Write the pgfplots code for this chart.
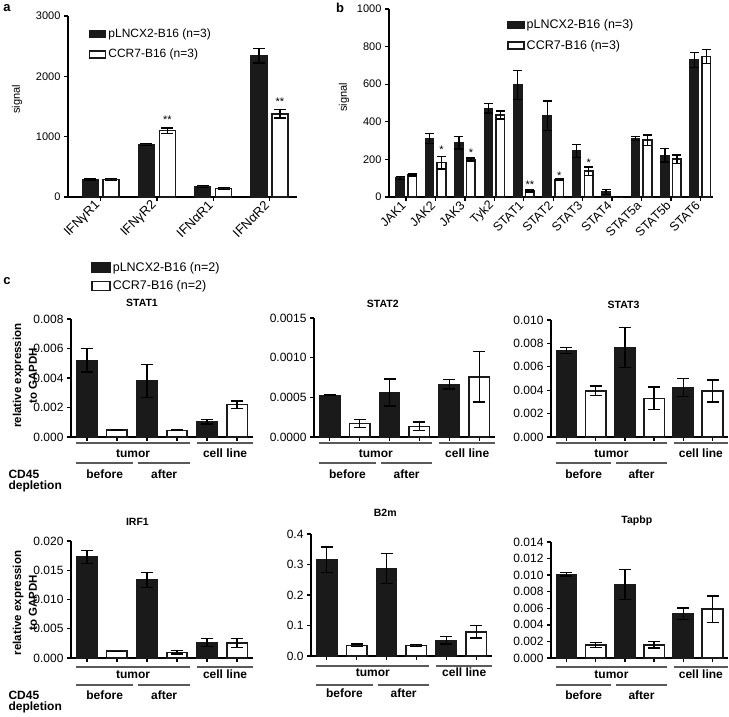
\documentclass[border=0pt]{standalone}
\usepackage{fontspec}
\setmainfont{Liberation Sans}
\usepackage{pgfplots}
\pgfplotsset{compat=1.18}
\definecolor{barblk}{HTML}{1A1A1A}
\definecolor{grpline}{HTML}{5A5A5A}
\newcommand{\fsz}[1]{\fontsize{#1}{#1}\selectfont}
\pgfplotsset{
  prism/.style={
    scale only axis, clip=false,
    axis x line*=bottom, axis y line*=left,
    axis line style={line width=1.6pt, -},
    tick align=outside, major tick length=4pt,
    tick style={line width=1.3pt, black},
    ymin=0, scaled y ticks=false,
    /pgf/number format/assume math mode=true,
  },
  blk/.style={ybar, bar shift=0pt, fill=barblk, draw=barblk, line width=1.2pt, forget plot,
    error bars/y dir=both, error bars/y explicit,
    error bars/error bar style={line width=1.3pt, black},
    error bars/error mark options={rotate=90, line width=1.3pt, black, mark size=#1}},
  wht/.style={ybar, bar shift=0pt, fill=white, draw=barblk, line width=1.6pt, forget plot,
    error bars/y dir=both, error bars/y explicit,
    error bars/error bar style={line width=1.3pt, black},
    error bars/error mark options={rotate=90, line width=1.3pt, black, mark size=#1}},
  legblk/.style={legend image code/.code={\draw[fill=barblk, draw=barblk, line width=1.2pt] (0pt,-3.5pt) rectangle (16pt,3.5pt);}},
  legwht/.style={legend image code/.code={\draw[fill=white, draw=barblk, line width=1.6pt] (0pt,-3.5pt) rectangle (16pt,3.5pt);}},
  legblkc/.style={legend image code/.code={\draw[fill=barblk, draw=barblk, line width=1.2pt] (0pt,-4.5pt) rectangle (18pt,4.5pt);}},
  legwhtc/.style={legend image code/.code={\draw[fill=white, draw=barblk, line width=1.6pt] (0pt,-4.5pt) rectangle (18pt,4.5pt);}},
  pc/.style={prism, anchor=south west, xmin=-0.53, xmax=5.53, xtick={0,...,5}, xticklabels={},
    yticklabel style={font=\fsz{12}, /pgf/number format/.cd, fixed, fixed zerofill, precision=#1},
    title style={anchor=base, font=\bfseries\fsz{10.5}}},
}
\newcommand{\grp}[2]{%
  \draw[grpline, line width=1.2pt] ([yshift=-#1pt]axis cs:-0.35,0) -- ([yshift=-#1pt]axis cs:3.43,0);
  \draw[grpline, line width=1.2pt] ([yshift=-#1pt]axis cs:3.67,0) -- ([yshift=-#1pt]axis cs:5.53,0);
  \draw[grpline, line width=1.2pt] ([yshift=-#2pt]axis cs:-0.35,0) -- ([yshift=-#2pt]axis cs:1.53,0);
  \draw[grpline, line width=1.2pt] ([yshift=-#2pt]axis cs:1.7,0) -- ([yshift=-#2pt]axis cs:3.43,0);
  \node[anchor=base, font=\bfseries\fsz{12}] at ([yshift=-21pt]axis cs:1.54,0) {tumor};
  \node[anchor=base, font=\bfseries\fsz{12}] at ([yshift=-21pt]axis cs:4.6,0) {cell line};
  \node[anchor=base, font=\bfseries\fsz{12}] at ([yshift=-42pt]axis cs:0.59,0) {before};
  \node[anchor=base, font=\bfseries\fsz{12}] at ([yshift=-42pt]axis cs:2.57,0) {after};
}
\newcommand{\relexp}[1]{%
  \node[rotate=90, font=\bfseries\fsz{11.5}] at (rel axis cs:-0.291,#1) {relative expression};
  \node[rotate=90, font=\bfseries\fsz{11.5}] at (rel axis cs:-0.209,#1) {to GAPDH};
}
\begin{document}
\begin{tikzpicture}[x=1pt,y=1pt]
\useasboundingbox (0pt,0pt) rectangle (729pt,717pt);

% ---------------- panel a ----------------
\node[font=\bfseries\fsz{13}] at (7pt,709pt) {a};
\begin{axis}[prism, at={(68pt,520pt)}, anchor=south west, width=229pt, height=181pt,
  xmin=-0.58, xmax=3.49, ymax=3000, ytick={0,1000,2000,3000},
  xtick={0,1,2,3}, xticklabels={IFNγR1,IFNγR2,IFNαR1,IFNαR2},
  xticklabel style={rotate=45, anchor=east, font=\fsz{13}},
  yticklabel style={font=\fsz{11}, /pgf/number format/1000 sep={}},
  ylabel={signal}, ylabel style={at={(axis description cs:-0.223,0.54)}, anchor=center, font=\fsz{11}},
  legend style={draw=none, fill=none, at={(axis description cs:0.09,0.94)}, anchor=north west, font=\fsz{12}, row sep=6pt, inner sep=0pt},
  legend cell align=left]
\addlegendimage{legblk}\addlegendentry{pLNCX2-B16 (n=3)}
\addlegendimage{legwht}\addlegendentry{CCR7-B16 (n=3)}
\addplot[blk=6pt, bar width=16pt] coordinates {
  (-0.187,295) +- (0,15) (0.813,870) +- (0,20) (1.813,170) +- (0,15) (2.813,2340) +- (0,120)};
\addplot[wht=6pt, bar width=16pt] coordinates {
  (0.187,293) +- (0,15) (1.187,1100) +- (0,45) (2.187,140) +- (0,12) (3.187,1380) +- (0,70)};
\node[font=\fsz{11}, yshift=-3pt] at (axis cs:1.187,1330) {**};
\node[font=\fsz{11}, yshift=-3pt] at (axis cs:3.187,1630) {**};
\end{axis}

% ---------------- panel b ----------------
\node[font=\bfseries\fsz{13}] at (340pt,709pt) {b};
\begin{axis}[prism, at={(389pt,520pt)}, anchor=south west, width=324pt, height=188pt,
  xmin=-0.58, xmax=10.43, ymax=1000, ytick={0,200,...,1000},
  xtick={0,...,10}, xticklabels={JAK1,JAK2,JAK3,Tyk2,STAT1,STAT2,STAT3,STAT4,STAT5a,STAT5b,STAT6},
  xticklabel style={rotate=45, anchor=east, font=\fsz{12.5}},
  yticklabel style={font=\fsz{11}, /pgf/number format/1000 sep={}},
  ylabel={signal}, ylabel style={at={(axis description cs:-0.139,0.53)}, anchor=center, font=\fsz{11}},
  legend style={draw=none, fill=none, at={(axis description cs:0.364,0.955)}, anchor=north west, font=\fsz{12.5}, row sep=6pt, inner sep=0pt},
  legend cell align=left]
\addlegendimage{legblk}\addlegendentry{pLNCX2-B16 (n=3)}
\addlegendimage{legwht}\addlegendentry{CCR7-B16 (n=3)}
\addplot[blk=4.5pt, bar width=8.5pt] coordinates {
  (-0.204,101) +- (0,8) (0.796,311) +- (0,27) (1.796,288) +- (0,32) (2.796,471) +- (0,25)
  (3.796,596) +- (0,76) (4.796,432) +- (0,78) (5.796,245) +- (0,34) (6.796,27) +- (0,12)
  (7.796,310) +- (0,10) (8.796,222) +- (0,36) (9.796,730) +- (0,40)};
\addplot[wht=4.5pt, bar width=8.5pt] coordinates {
  (0.204,117) +- (0,5) (1.204,183) +- (0,34) (2.204,200) +- (0,8) (3.204,436) +- (0,21)
  (4.204,32) +- (0,5) (5.204,92) +- (0,4) (6.204,137) +- (0,23) (7.204,2) +- (0,1)
  (8.204,302) +- (0,27) (9.204,201) +- (0,23) (10.204,747) +- (0,38)};
\node[font=\fsz{11}, yshift=-3pt] at (axis cs:1.204,267) {*};
\node[font=\fsz{11}, yshift=-3pt] at (axis cs:2.204,254) {*};
\node[font=\fsz{11}, yshift=-3pt] at (axis cs:4.204,80) {**};
\node[font=\fsz{11}, yshift=-3pt] at (axis cs:5.204,128) {*};
\node[font=\fsz{11}, yshift=-3pt] at (axis cs:6.204,199) {*};
\end{axis}

% ---------------- panel c ----------------
\node[font=\bfseries\fsz{13}] at (7pt,436pt) {c};
\node[anchor=base west, font=\bfseries\fsz{12}] at (5pt,238pt) {CD45};
\node[anchor=base west, font=\bfseries\fsz{12}] at (5pt,227pt) {depletion};
\node[anchor=base west, font=\bfseries\fsz{12}] at (5pt,17pt) {CD45};
\node[anchor=base west, font=\bfseries\fsz{12}] at (5pt,6pt) {depletion};

% STAT1
\begin{axis}[pc=3, at={(71pt,280pt)}, width=182pt, height=118pt,
  ymax=0.008, ytick={0,0.002,0.004,0.006,0.008},
  title={STAT1}, title style={at={(axis description cs:0.39,1)}, yshift=6pt},
  legend style={draw=none, fill=none, at={(axis description cs:0.11,1.5)}, anchor=north west, font=\fsz{12.5}, row sep=4pt, inner sep=0pt},
  legend cell align=left]
\addlegendimage{legblkc}\addlegendentry{pLNCX2-B16 (n=2)}
\addlegendimage{legwhtc}\addlegendentry{CCR7-B16 (n=2)}
\addplot[blk=6pt, bar width=20.5pt] coordinates {
  (0,0.0052) +- (0,0.0008) (2,0.0038) +- (0,0.0011) (4,0.00104) +- (0,0.00015)};
\addplot[wht=6pt, bar width=20.5pt] coordinates {
  (1,0.00047) +- (0,0.00002) (3,0.00045) +- (0,0.00003) (5,0.0022) +- (0,0.00025)};
\grp{6}{26}
\relexp{0.52}
\end{axis}

% STAT2
\begin{axis}[pc=4, at={(314pt,280pt)}, width=181pt, height=119pt,
  ymax=0.0015, ytick={0,0.0005,0.001,0.0015},
  title={STAT2}, title style={at={(axis description cs:0.38,1)}, yshift=4pt}]
\addplot[blk=6pt, bar width=20.5pt] coordinates {
  (0,0.000525) +- (0,0.000005) (2,0.00056) +- (0,0.00017) (4,0.000664) +- (0,0.00006)};
\addplot[wht=6pt, bar width=20.5pt] coordinates {
  (1,0.000168) +- (0,0.00005) (3,0.000134) +- (0,0.000055) (5,0.00076) +- (0,0.00032)};
\grp{6}{26}
\end{axis}

% STAT3
\begin{axis}[pc=3, at={(551pt,280pt)}, width=177pt, height=117pt,
  ymax=0.010, ytick={0,0.002,0.004,0.006,0.008,0.010},
  title={STAT3}, title style={at={(axis description cs:0.41,1)}, yshift=5pt}]
\addplot[blk=6pt, bar width=20.5pt] coordinates {
  (0,0.00739) +- (0,0.00025) (2,0.00764) +- (0,0.0017) (4,0.00423) +- (0,0.00074)};
\addplot[wht=6pt, bar width=20.5pt] coordinates {
  (1,0.00395) +- (0,0.00042) (3,0.0033) +- (0,0.00097) (5,0.00392) +- (0,0.00094)};
\grp{6}{26}
\end{axis}

% IRF1
\begin{axis}[pc=3, at={(71pt,59pt)}, width=182pt, height=117pt,
  ymax=0.020, ytick={0,0.005,0.010,0.015,0.020},
  title={IRF1}, title style={at={(axis description cs:0.365,1)}, yshift=9pt}]
\addplot[blk=6pt, bar width=20.5pt] coordinates {
  (0,0.0173) +- (0,0.0011) (2,0.01335) +- (0,0.0013) (4,0.00267) +- (0,0.0007)};
\addplot[wht=6pt, bar width=20.5pt] coordinates {
  (1,0.00115) +- (0,0.00002) (3,0.00097) +- (0,0.0003) (5,0.00256) +- (0,0.0008)};
\grp{9}{27}
\relexp{0.47}
\end{axis}

% B2m
\begin{axis}[pc=1, at={(311pt,61pt)}, width=181pt, height=122pt,
  ymax=0.4, ytick={0,0.1,0.2,0.3,0.4},
  title={B2m}, title style={at={(axis description cs:0.41,1)}, yshift=11pt}]
\addplot[blk=6pt, bar width=20.5pt] coordinates {
  (0,0.315) +- (0,0.042) (2,0.287) +- (0,0.049) (4,0.052) +- (0,0.013)};
\addplot[wht=6pt, bar width=20.5pt] coordinates {
  (1,0.035) +- (0,0.004) (3,0.035) +- (0,0.003) (5,0.079) +- (0,0.02)};
\grp{10}{29}
\end{axis}

% Tapbp
\begin{axis}[pc=3, at={(551pt,59pt)}, width=177pt, height=116pt,
  ymax=0.014, ytick={0,0.002,0.004,0.006,0.008,0.010,0.012,0.014},
  title={Tapbp}, title style={at={(axis description cs:0.485,1)}, yshift=12pt}]
\addplot[blk=6pt, bar width=20.5pt] coordinates {
  (0,0.01012) +- (0,0.00024) (2,0.00888) +- (0,0.0018) (4,0.00532) +- (0,0.0007)};
\addplot[wht=6pt, bar width=20.5pt] coordinates {
  (1,0.0016) +- (0,0.0003) (3,0.0016) +- (0,0.0004) (5,0.00588) +- (0,0.0016)};
\grp{9}{27}
\end{axis}
\end{tikzpicture}
\end{document}
